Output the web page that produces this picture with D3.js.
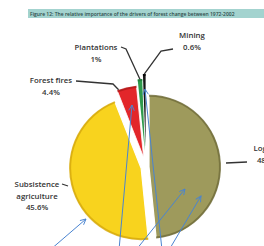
<!DOCTYPE html>
<html>
<head>
<meta charset="utf-8">
<script src="https://cdn.jsdelivr.net/npm/d3@7"></script>
<style>
  body { margin: 0; background: #fff; }
  svg { display: block; }
  .lbl { font-family: "Open Sans", sans-serif; font-size: 7.8px; fill: #333; font-weight: 600; }
</style>
</head>
<body>
<div id="chart"></div>
<script>
// Figure 12: drivers of forest change 1972-2002 (share, %)
const drivers = ["Logging", "Subsistence agriculture", "Forest fires", "Plantations", "Mining"];
const shares = [48.4, 45.6, 4.4, 1, 0.6];
const shareLabels = ["48.4%", "45.6%", "4.4%", "1%", "0.6%"];

const fills = ["#9e9a5c", "#f8d31e", "#e2262a", "#2f9a4c", "#151515"];
const rims = ["#6f6c39", "#d4a80c", "#b01a1a", "#1f7a38", "#000"];
const explode = [3, 5, 10, 16, 21];
const seam = [1.2, 1.2, 0.8, 0, 0];

const width = 264, height = 246;
const cx = 146, cy = 167, r = 72;

const svg = d3.select("#chart").append("svg")
    .attr("width", width)
    .attr("height", height);

// title bar
svg.append("rect")
    .attr("x", 28).attr("y", 9)
    .attr("width", 240).attr("height", 9)
    .attr("fill", "#a3d3cf");
svg.append("text")
    .attr("x", 30).attr("y", 15.6)
    .style("font-family", "Open Sans, sans-serif")
    .style("font-size", "5px")
    .style("font-weight", "600")
    .style("fill", "#2c4a48")
    .text("Figure 12: The relative importance of the drivers of forest change between 1972-2002");

const pie = d3.pie().sort(null).value(d => d)(shares);
const arc = d3.arc().innerRadius(0).outerRadius(r);
const rimArc = d3.arc().innerRadius(r - 2).outerRadius(r);

function shift(d, i) {
    const mid = (d.startAngle + d.endAngle) / 2;
    return [Math.sin(mid) * explode[i], -Math.cos(mid) * explode[i]];
}

const g = svg.append("g").attr("transform", `translate(${cx},${cy})`);

const slices = g.selectAll("g.slice")
    .data(pie)
    .join("g")
    .attr("class", "slice")
    .attr("transform", (d, i) => `translate(${shift(d, i)})`);

slices.append("path")
    .attr("d", arc)
    .attr("fill", (d, i) => fills[i])
    .attr("stroke", "#fff")
    .attr("stroke-width", (d, i) => seam[i])
    .attr("stroke-opacity", (d, i) => seam[i] ? 1 : 0);

slices.append("path")
    .attr("d", rimArc)
    .attr("fill", (d, i) => rims[i])
    .attr("opacity", 0.8);

// leader lines: label anchor -> bend -> slice rim point
const leaders = [
    { i: 0, pts: [[247, 162], [226, 163]], at: 0.5 },
    { i: 1, pts: [[62, 184], [68, 186]], at: 0.5 },
    { i: 2, pts: [[76, 81], [113, 84]], at: 0.08 },
    { i: 3, pts: [[121, 47], [126, 49]], at: 0.5 },
    { i: 4, pts: [[173, 49], [161, 51]], at: 0.5 }
];
leaders.forEach(l => {
    const d = pie[l.i];
    const a = d.startAngle + (d.endAngle - d.startAngle) * l.at;
    const s = shift(d, l.i);
    let end = [cx + s[0] + Math.sin(a) * r, cy + s[1] - Math.cos(a) * r];
    if (l.i < 2) end = l.pts[1];
    svg.append("path")
        .attr("d", d3.line()([...l.pts, end]))
        .attr("fill", "none")
        .attr("stroke", "#333")
        .attr("stroke-width", 1.3);
});

// text labels
const labels = [
    { i: 0, x: 268, y: 151, lines: ["Logging", shareLabels[0]] },
    { i: 1, x: 37, y: 187, lines: ["Subsistence", "agriculture", shareLabels[1]] },
    { i: 2, x: 51, y: 83, lines: ["Forest fires", shareLabels[2]] },
    { i: 3, x: 96, y: 50, lines: ["Plantations", shareLabels[3]] },
    { i: 4, x: 192, y: 38, lines: ["Mining", shareLabels[4]] }
];
labels.forEach(l => {
    const t = svg.append("text").attr("class", "lbl").attr("text-anchor", "middle");
    l.lines.forEach((s, k) => {
        t.append("tspan").attr("x", l.x).attr("y", l.y + k * 11.5).text(s);
    });
});

// blue arrows drawn over the figure
const arrows = [
    [[50, 250], [86, 219]],
    [[119, 250], [132, 105]],
    [[162, 250], [145, 89]],
    [[136, 250], [185, 189]],
    [[169, 250], [201, 196]]
];
svg.append("defs").append("marker")
    .attr("id", "head")
    .attr("viewBox", "0 0 10 10")
    .attr("refX", 9).attr("refY", 5)
    .attr("markerWidth", 7).attr("markerHeight", 7)
    .attr("orient", "auto")
    .append("path")
    .attr("d", "M1,1 L9,5 L1,9")
    .attr("fill", "none")
    .attr("stroke", "#4a84d0")
    .attr("stroke-width", 1.3);

svg.selectAll("line.arrow")
    .data(arrows)
    .join("line")
    .attr("class", "arrow")
    .attr("x1", d => d[0][0]).attr("y1", d => d[0][1])
    .attr("x2", d => d[1][0]).attr("y2", d => d[1][1])
    .attr("stroke", "#4a84d0")
    .attr("stroke-width", 1)
    .attr("marker-end", "url(#head)");
</script>
</body>
</html>
